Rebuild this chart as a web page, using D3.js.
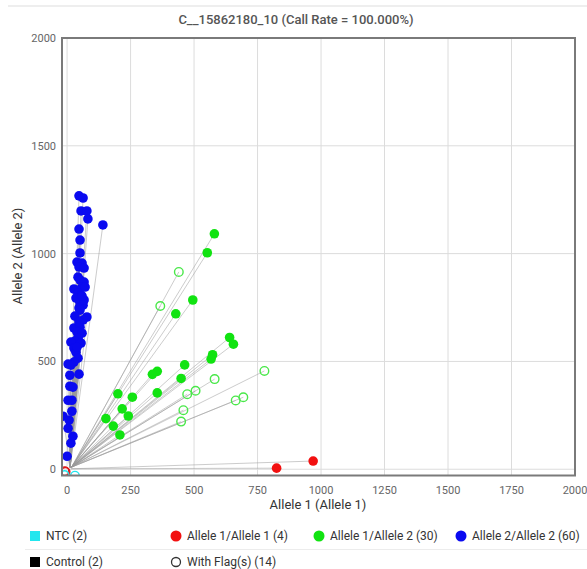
<!DOCTYPE html>
<html>
<head>
<meta charset="utf-8">
<script src="https://cdn.jsdelivr.net/npm/d3@7"></script>
<style>
  body { margin: 0; background: #fff; font-family: Roboto, "Noto Sans", sans-serif; }
</style>
</head>
<body>
<svg id="chart" width="587" height="569"></svg>
<script>
// ---- data ----
const title = "C__15862180_10 (Call Rate = 100.000%)";
const xTicks = [0, 250, 500, 750, 1000, 1250, 1500, 1750, 2000];
const yTicks = [0, 500, 1000, 1500, 2000];

// Allele 2/Allele 2 (blue) end points [allele1, allele2]
const blueX = [47,63,55,78,82,141,47,51,39,59,47,67,43,51,67,27,59,71,43,55,51,63,47,51,78,63,27,51,39,59,43,31,55,15,27,35,43,27,4,15,47,11,23,4,19,19,-16,4,15,0,35,67,31,59,47,39,11,8,51,23];
const blueY = [1268,1258,1198,1198,1161,1133,1114,1003,961,956,938,933,891,878,868,836,845,845,817,808,775,761,748,738,706,692,655,659,636,631,608,594,585,590,562,543,515,497,488,483,441,385,381,320,320,269,246,190,121,60,794,785,710,803,683,566,436,228,1063,153];

// Allele 1/Allele 2 (green), called
const greenX = [580,552,495,428,640,655,573,567,463,355,336,449,200,257,355,217,241,153,182,208];
const greenY = [1092,1004,785,721,611,580,531,511,484,454,440,421,350,334,354,280,247,235,200,159];
// Allele 1/Allele 2 (green), flagged
const greenFlagX = [440,367,777,581,473,506,458,449,664,694];
const greenFlagY = [915,757,456,418,348,364,274,221,319,334];

// Allele 1/Allele 1 (red)
const redX = [825,969];
const redY = [5,38];
const redFlagX = [-10,-6];
const redFlagY = [-9,-12];

// NTC (flagged)
const ntcX = [-10,31];
const ntcY = [-27,-30];

// trajectory start points per group [allele1, allele2]
const blueStart = [12, 10];
const greenStart = [18, 10];
const redStart = [15, 2];

const legendRow1 = ["NTC  (2)", "Allele 1/Allele 1  (4)", "Allele 1/Allele 2  (30)", "Allele 2/Allele 2  (60)"];
const legendRow2 = ["Control  (2)", "With Flag(s)  (14)"];

// ---- drawing ----
const svg = d3.select("#chart");
const W = 587, H = 569;
const pL = 62, pR = 575, pT = 38, pB = 475.5;

const x = d3.scaleLinear().domain([-20, 2000]).range([pL, pR]);
const y = d3.scaleLinear().domain([-29, 2000]).range([pB, pT]);

// faint top rule
svg.append("line").attr("x1", 8).attr("x2", W).attr("y1", 6).attr("y2", 6)
  .attr("stroke", "#e8e8e8").attr("stroke-width", 1.5);

// title
svg.append("text").attr("x", 296).attr("y", 24).attr("text-anchor", "middle")
  .attr("font-size", 13).attr("font-weight", 500).attr("fill", "#555").text(title);

const plot = svg.append("g");
plot.append("defs").append("clipPath").attr("id", "clip")
  .append("rect").attr("x", pL).attr("y", pT).attr("width", pR - pL).attr("height", pB - pT);

// gridlines
plot.append("g").selectAll("line").data(xTicks).join("line")
  .attr("x1", d => x(d)).attr("x2", d => x(d)).attr("y1", pT).attr("y2", pB)
  .attr("stroke", "#dcdcdc").attr("stroke-width", 1);
plot.append("g").selectAll("line").data(yTicks).join("line")
  .attr("x1", pL).attr("x2", pR).attr("y1", d => y(d)).attr("y2", d => y(d))
  .attr("stroke", "#dcdcdc").attr("stroke-width", 1);

const inner = plot.append("g").attr("clip-path", "url(#clip)");
const line = d3.line().x(d => x(d[0])).y(d => y(d[1]));

function traj(xs, ys, start) {
  inner.append("g").selectAll("path").data(xs.map((v, i) => [start, [v, ys[i]]])).join("path")
    .attr("d", line).attr("fill", "none").attr("stroke", "#9a9a9a")
    .attr("stroke-opacity", 0.5).attr("stroke-width", 1);
}
traj(blueX, blueY, blueStart);
traj(greenX, greenY, greenStart);
traj(greenFlagX, greenFlagY, greenStart);
traj(redX, redY, redStart);

function dots(xs, ys, color, open) {
  inner.append("g").selectAll("circle").data(xs.map((v, i) => [v, ys[i]])).join("circle")
    .attr("cx", d => x(d[0])).attr("cy", d => y(d[1])).attr("r", open ? 4.3 : 4.8)
    .attr("fill", open ? "none" : color)
    .attr("stroke", open ? color : "none").attr("stroke-width", 1.4);
}
dots(greenX, greenY, "#11e311", false);
dots(greenFlagX, greenFlagY, "#4ae84a", true);
dots(blueX, blueY, "#0a0af0", false);
dots(redX, redY, "#f21010", false);
dots(redFlagX, redFlagY, "#e01818", true);
dots(ntcX, ntcY, "#22e6ee", true);

// border
plot.append("rect").attr("x", pL).attr("y", pT).attr("width", pR - pL).attr("height", pB - pT)
  .attr("fill", "none").attr("stroke", "#7a7a7a").attr("stroke-width", 2);

// tick labels
svg.append("g").selectAll("text").data(xTicks).join("text")
  .attr("x", d => x(d)).attr("y", 494).attr("text-anchor", "middle")
  .attr("font-size", 11).attr("fill", "#666").text(d => d);
svg.append("g").selectAll("text").data(yTicks).join("text")
  .attr("x", 56).attr("y", d => y(d) + 4).attr("text-anchor", "end")
  .attr("font-size", 11).attr("fill", "#666").text(d => d);

// axis titles
svg.append("text").attr("x", 318).attr("y", 509).attr("text-anchor", "middle")
  .attr("font-size", 13).attr("fill", "#333").text("Allele 1 (Allele 1)");
svg.append("text").attr("transform", "translate(22,256) rotate(-90)").attr("text-anchor", "middle")
  .attr("font-size", 13).attr("fill", "#333").text("Allele 2 (Allele 2)");

// legend
const lg = svg.append("g").attr("font-size", 12).attr("fill", "#333");
const row1X = [46, 187, 330, 472];
const row1Sym = ["sq", "c", "c", "c"];
const row1Col = ["#22e6ee", "#f21010", "#11e311", "#0a0af0"];
legendRow1.forEach((t, i) => {
  const sx = row1X[i] - 11;
  if (row1Sym[i] === "sq") lg.append("rect").attr("x", sx - 5).attr("y", 531).attr("width", 10).attr("height", 10).attr("fill", row1Col[i]);
  else lg.append("circle").attr("cx", sx).attr("cy", 536).attr("r", 5.5).attr("fill", row1Col[i]);
  lg.append("text").attr("x", row1X[i]).attr("y", 540).text(t).attr("fill", "#333");
});
lg.append("line").attr("x1", 25).attr("x2", W).attr("y1", 549.5).attr("y2", 549.5).attr("stroke", "#ececec");
const row2X = [46, 187];
legendRow2.forEach((t, i) => {
  const sx = row2X[i] - 11;
  if (i === 0) lg.append("rect").attr("x", sx - 5).attr("y", 557).attr("width", 10).attr("height", 10).attr("fill", "#000");
  else lg.append("circle").attr("cx", sx).attr("cy", 562).attr("r", 4.5).attr("fill", "none").attr("stroke", "#333").attr("stroke-width", 1.3);
  lg.append("text").attr("x", row2X[i]).attr("y", 566).text(t).attr("fill", "#333");
});
</script>
</body>
</html>
